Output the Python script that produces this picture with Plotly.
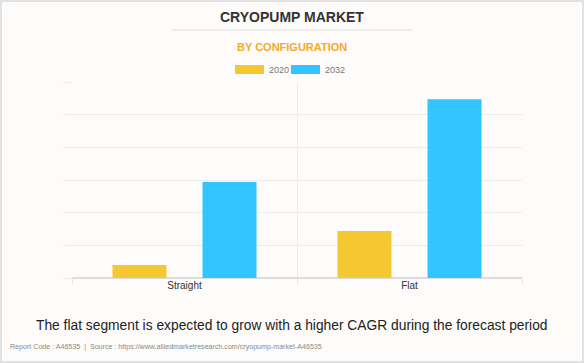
import plotly.graph_objects as go

categories = ["Straight", "Flat"]
series_names = ["2020", "2032"]
values_2020 = [0.4, 1.44]
values_2032 = [2.94, 5.47]
colors = ["#F5C832", "#33C5FF"]

W, H = 584, 363
L, R, T, B = 72, 62, 82, 85
pw, ph = W - L - R, H - T - B

def px(x):
    return (x - L) / pw

def py(y):
    return (H - B - y) / ph

fig = go.Figure()
for name, vals, col in zip(series_names, [values_2020, values_2032], colors):
    fig.add_trace(go.Bar(x=categories, y=vals, name=name, marker_color=col,
                         marker_line_width=0, showlegend=False))

font = "Arial, Liberation Sans, sans-serif"
shapes = [
    # outer frame
    dict(type="rect", xref="paper", yref="paper", x0=px(1), x1=px(583), y0=py(362), y1=py(1),
         line=dict(color="#e2e2e2", width=2), layer="below"),
    # title underline
    dict(type="line", xref="paper", yref="paper", x0=px(172), x1=px(412), y0=py(30), y1=py(30),
         line=dict(color="#dcdcdc", width=1)),
]
annotations = [
    dict(text="<b>CRYOPUMP MARKET</b>", x=px(292), y=py(17), xref="paper", yref="paper",
         showarrow=False, font=dict(family=font, size=14, color="#333333"), xanchor="center", yanchor="middle"),
    dict(text="<b>BY CONFIGURATION</b>", x=px(292), y=py(47), xref="paper", yref="paper",
         showarrow=False, font=dict(family=font, size=11, color="#F7A928"), xanchor="center", yanchor="middle"),
    dict(text="The flat segment is expected to grow with a higher CAGR during the forecast period",
         x=px(292), y=py(325), xref="paper", yref="paper", showarrow=False,
         font=dict(family=font, size=13.8, color="#222222"), xanchor="center", yanchor="middle"),
    dict(text="Report Code : A46535  |  Source : https://www.alliedmarketresearch.com/cryopump-market-A46535",
         x=px(8), y=py(347), xref="paper", yref="paper", showarrow=False,
         font=dict(family=font, size=7.1, color="#8a8a8a"), xanchor="left", yanchor="middle"),
]
# manual legend
leg_x = [235, 291]
for name, col, x0 in zip(series_names, colors, leg_x):
    shapes.append(dict(type="rect", xref="paper", yref="paper", x0=px(x0), x1=px(x0 + 29),
                       y0=py(74), y1=py(65), fillcolor=col, line=dict(width=0)))
    annotations.append(dict(text=name, x=px(x0 + 32), y=py(69.5), xref="paper", yref="paper",
                            showarrow=False, xanchor="left", yanchor="middle",
                            font=dict(family=font, size=9, color="#777777")))

fig.update_layout(
    width=W, height=H,
    margin=dict(l=L, r=R, t=T, b=B),
    paper_bgcolor="#FDFCFB", plot_bgcolor="#FDFCFB",
    barmode="group", bargap=0.2, bargroupgap=0.4,
    shapes=shapes, annotations=annotations,
    xaxis=dict(type="category", tickson="boundaries", showgrid=True, gridcolor="#ececec",
               ticks="outside", ticklen=5, tickcolor="#e6e6e6", showline=False,
               tickfont=dict(family=font, size=10, color="#333333")),
    yaxis=dict(range=[0, 6], dtick=1, showticklabels=False, showgrid=True, gridcolor="#ececec",
               ticks="outside", ticklen=8, tickcolor="#ececec", zeroline=True, zerolinecolor="#dddddd",
               showline=False),
)
fig.write_html("out.html", config={"displayModeBar": False},
               post_script="document.body.style.margin='0';document.body.style.overflow='hidden';")
